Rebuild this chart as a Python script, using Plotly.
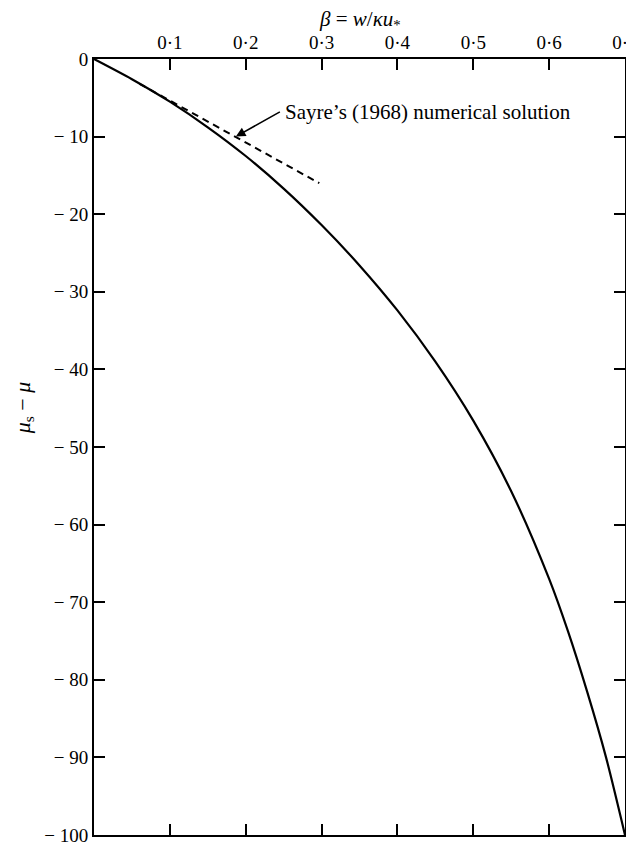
import plotly.graph_objects as go

# Solid curve (theory)
beta_solid = [0.0, 0.05, 0.1, 0.15, 0.2, 0.25, 0.3, 0.35, 0.4, 0.45, 0.5, 0.55, 0.6, 0.625, 0.65, 0.675, 0.7]
mu_solid = [0.0, -2.6, -5.5, -8.8, -12.5, -16.7, -21.4, -26.6, -32.4, -39.0, -46.6, -55.7, -67.0, -73.8, -81.5, -90.0, -100.0]

# Dashed line: Sayre's (1968) numerical solution
beta_sayre = [0.06, 0.297]
mu_sayre = [-3.2, -16.0]

x_tickvals = [0.1, 0.2, 0.3, 0.4, 0.5, 0.6, 0.7]
x_ticktext = ["0·1", "0·2", "0·3", "0·4", "0·5", "0·6", "0·7"]
y_tickvals = [0, -10, -20, -30, -40, -50, -60, -70, -80, -90, -100]
y_ticktext = ["0", "− 10", "− 20", "− 30", "− 40", "− 50", "− 60", "− 70", "− 80", "− 90", "− 100"]

FONT = "Liberation Serif"

fig = go.Figure()
fig.add_trace(go.Scatter(x=beta_sayre, y=mu_sayre, mode="lines",
                         line=dict(color="black", width=2, dash="7px,5px"),
                         showlegend=False, hoverinfo="skip"))
fig.add_trace(go.Scatter(x=beta_solid, y=mu_solid, mode="lines",
                         line=dict(color="black", width=2.2, shape="spline", smoothing=0.8),
                         showlegend=False, hoverinfo="skip"))

fig.add_annotation(x=0.187, y=-10.0, ax=0.247, ay=-6.7, xref="x", yref="y",
                   axref="x", ayref="y", text="", showarrow=True,
                   arrowhead=2, arrowsize=1.2, arrowwidth=1.6, arrowcolor="black")
fig.add_annotation(x=0.249, y=-6.8, xref="x", yref="y", text="Sayre’s (1968) numerical solution",
                   showarrow=False, xanchor="left", yanchor="middle",
                   font=dict(family=FONT, size=21, color="black"))

# axis titles as annotations
fig.add_annotation(x=0.5, y=1, xref="paper", yref="paper", yshift=39,
                   text="<i>β</i> = <i>w</i>/<i>κu</i><sub>*</sub>", showarrow=False,
                   xanchor="center", yanchor="middle",
                   font=dict(family=FONT, size=21, color="black"))
fig.add_annotation(x=0, y=0.55, xref="paper", yref="paper", xshift=-70,
                   text="<i>μ</i><sub>s</sub> − <i>μ</i>", showarrow=False, textangle=-90,
                   xanchor="center", yanchor="middle",
                   font=dict(family=FONT, size=22, color="black"))

axis_common = dict(showgrid=False, zeroline=False, showline=True, linecolor="black",
                   linewidth=2, mirror="allticks", ticks="inside", ticklen=11,
                   tickwidth=2, tickcolor="black", automargin=False,
                   ticklabeloverflow="allow",
                   tickfont=dict(family=FONT, size=19, color="black"))

# The page body has an 8px default margin, so the figure is sized to fit the window.
fig.update_layout(
    width=626, height=835,
    margin=dict(l=86, r=9, t=51, b=8, autoexpand=False),
    paper_bgcolor="white", plot_bgcolor="white",
    xaxis=dict(range=[0, 0.7], side="top", tickvals=x_tickvals, ticktext=x_ticktext,
               **axis_common),
    yaxis=dict(range=[-100, 0], tickvals=y_tickvals, ticktext=y_ticktext,
               **axis_common),
)

fig.write_html("out.html")
